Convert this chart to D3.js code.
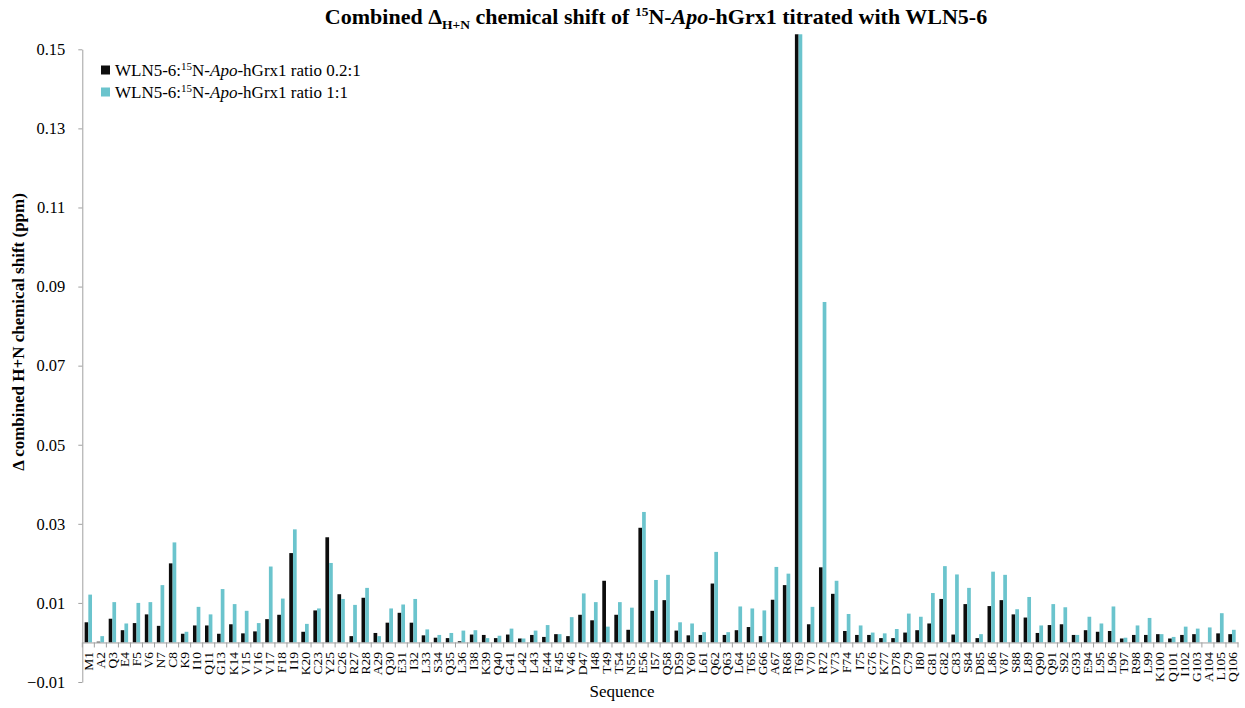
<!DOCTYPE html>
<html>
<head>
<meta charset="utf-8">
<script src="https://cdn.jsdelivr.net/npm/d3@7"></script>
<style>
  html, body { margin: 0; padding: 0; background: #fff; }
  svg { display: block; font-family: "Times New Roman", "Liberation Serif", serif; }
</style>
</head>
<body>
<svg id="chart" width="1245" height="708"></svg>
<script>
// Residues of hGrx1 with an assigned H/N cross-peak
const residues = ["M1","A2","Q3","E4","F5","V6","N7","C8","K9","I10","Q11","G13","K14","V15","V16","V17","F18","I19","K20","C23","Y25","C26","R27","R28","A29","Q30","E31","I32","L33","S34","Q35","L36","I38","K39","Q40","G41","L42","L43","E44","F45","V46","D47","I48","T49","T54","N55","E56","I57","Q58","D59","Y60","L61","Q62","Q63","L64","T65","G66","A67","R68","T69","V70","R72","V73","F74","I75","G76","K77","D78","C79","I80","G81","G82","C83","S84","D85","L86","V87","S88","L89","Q90","Q91","S92","G93","E94","L95","L96","T97","R98","L99","K100","Q101","I102","G103","A104","L105","Q106"];

// Combined H+N chemical shift (ppm), WLN5-6 : protein 0.2 : 1
const ratio02 = [0.0051,0.0002,0.0060,0.0031,0.0049,0.0071,0.0042,0.0200,0.0022,0.0043,0.0043,0.0022,0.0046,0.0023,0.0028,0.0059,0.0070,0.0226,0.0027,0.0081,0.0266,0.0122,0.0016,0.0113,0.0024,0.0050,0.0075,0.0050,0.0018,0.0012,0.0011,0.0003,0.0020,0.0019,0.0011,0.0020,0.0010,0.0019,0.0014,0.0021,0.0016,0.0070,0.0056,0.0156,0.0070,0.0032,0.0290,0.0080,0.0107,0.0030,0.0018,0.0019,0.0149,0.0019,0.0031,0.0039,0.0016,0.0108,0.0145,0.1538,0.0046,0.0190,0.0123,0.0029,0.0019,0.0019,0.0011,0.0011,0.0025,0.0031,0.0048,0.0110,0.0020,0.0097,0.0011,0.0092,0.0107,0.0071,0.0063,0.0024,0.0044,0.0046,0.0019,0.0031,0.0027,0.0029,0.0010,0.0019,0.0019,0.0021,0.0010,0.0019,0.0021,0.0000,0.0023,0.0021];

// Combined H+N chemical shift (ppm), WLN5-6 : protein 1 : 1
const ratio11 = [0.0121,0.0016,0.0102,0.0048,0.0100,0.0102,0.0145,0.0253,0.0027,0.0090,0.0071,0.0135,0.0097,0.0080,0.0049,0.0192,0.0111,0.0286,0.0047,0.0086,0.0201,0.0110,0.0095,0.0138,0.0016,0.0086,0.0096,0.0110,0.0033,0.0019,0.0024,0.0030,0.0031,0.0011,0.0017,0.0035,0.0010,0.0030,0.0044,0.0021,0.0064,0.0124,0.0102,0.0040,0.0102,0.0088,0.0330,0.0158,0.0171,0.0051,0.0048,0.0026,0.0229,0.0026,0.0091,0.0086,0.0081,0.0191,0.0174,0.1538,0.0090,0.0861,0.0156,0.0072,0.0043,0.0025,0.0023,0.0034,0.0073,0.0065,0.0125,0.0193,0.0172,0.0138,0.0021,0.0179,0.0171,0.0084,0.0115,0.0043,0.0097,0.0089,0.0019,0.0065,0.0048,0.0091,0.0012,0.0043,0.0062,0.0021,0.0014,0.0040,0.0035,0.0038,0.0074,0.0032];

const yTicks = [-0.01, 0.01, 0.03, 0.05, 0.07, 0.09, 0.11, 0.13, 0.15];
const seriesColors = ["#0d0d0d", "#6bc4cd"];
const seriesRatios = ["0.2:1", "1:1"];

const svg = d3.select("#chart");
svg.append("rect").attr("width", 1245).attr("height", 708).attr("fill", "#fff");

const plotLeft = 82.3, plotRight = 1238, plotTop = 49.3, plotBottom = 682;

const x0 = d3.scaleBand().domain(residues).range([plotLeft, plotRight])
  .paddingInner(0.386).paddingOuter(0.193);
const x1 = d3.scaleBand().domain([0, 1]).range([0, x0.bandwidth()]);
const y = d3.scaleLinear().domain([-0.01, 0.15]).range([plotBottom, plotTop]);

const axisColor = "#a0a0a0";

// Bars
const series = [ratio02, ratio11];
series.forEach((vals, s) => {
  svg.append("g").selectAll("rect")
    .data(residues.map((r, i) => ({ r, v: vals[i] })))
    .join("rect")
    .attr("x", d => x0(d.r) + x1(s))
    .attr("width", x1.bandwidth())
    .attr("y", d => y(Math.max(0, d.v)))
    .attr("height", d => Math.abs(y(d.v) - y(0)))
    .attr("fill", seriesColors[s]);
});

// Y axis
const yAxis = svg.append("g")
  .attr("transform", `translate(${plotLeft},0)`)
  .call(d3.axisLeft(y).tickValues(yTicks).tickFormat(d3.format(".2f"))
    .tickSize(4).tickSizeOuter(0).tickPadding(13));
yAxis.select(".domain").attr("stroke", axisColor);
yAxis.selectAll(".tick line").attr("stroke", axisColor);
yAxis.selectAll("text").attr("font-size", "16.5px").attr("fill", "#000")
  .attr("font-family", "'Times New Roman', 'Liberation Serif', serif");

// X axis along zero, labels rotated
const xAxis = svg.append("g")
  .attr("transform", `translate(0,${y(0)})`)
  .call(d3.axisBottom(x0).tickSize(0).tickSizeOuter(0));
xAxis.select(".domain").attr("stroke", axisColor);
xAxis.selectAll("text")
  .attr("transform", "rotate(-90)")
  .attr("text-anchor", "end")
  .attr("x", -9.5).attr("y", 0).attr("dy", "0.35em")
  .attr("font-size", "13.5px").attr("fill", "#000")
  .attr("font-family", "'Times New Roman', 'Liberation Serif', serif");

// Category separators below the zero line
const bounds = residues.map(r => x0(r) + x0.bandwidth() / 2 - x0.step() / 2)
  .concat([x0(residues[residues.length - 1]) + x0.bandwidth() / 2 + x0.step() / 2]);
svg.append("g").selectAll("line").data(bounds).join("line")
  .attr("x1", d => d).attr("x2", d => d)
  .attr("y1", y(0)).attr("y2", y(0) + 5)
  .attr("stroke", axisColor);

// Title
const title = svg.append("text")
  .attr("x", 656).attr("y", 24).attr("text-anchor", "middle")
  .attr("font-size", "22px").attr("font-weight", "bold");
title.append("tspan").text("Combined \u0394");
title.append("tspan").attr("font-size", "13.5px").attr("dy", 5).text("H+N");
title.append("tspan").attr("dy", -5).text(" chemical shift of ");
title.append("tspan").attr("font-size", "13.5px").attr("dy", -8).text("15");
title.append("tspan").attr("dy", 8).text("N-");
title.append("tspan").attr("font-style", "italic").text("Apo");
title.append("tspan").text("-hGrx1 titrated with WLN5-6");

// Axis titles
svg.append("text")
  .attr("transform", "translate(24,332) rotate(-90)")
  .attr("text-anchor", "middle").attr("font-size", "17px").attr("font-weight", "bold")
  .text("\u0394 combined H+N chemical shift (ppm)");
svg.append("text")
  .attr("x", 622).attr("y", 697).attr("text-anchor", "middle")
  .attr("font-size", "17px").text("Sequence");

// Legend
const legend = svg.append("g").attr("transform", "translate(101,0)");
seriesRatios.forEach((ratio, i) => {
  const cy = 70 + i * 22;
  legend.append("rect").attr("x", 0).attr("y", cy - 4.5).attr("width", 9).attr("height", 9)
    .attr("fill", seriesColors[i]);
  const t = legend.append("text").attr("x", 14).attr("y", cy + 5.5).attr("font-size", "17px");
  t.append("tspan").text("WLN5-6:");
  t.append("tspan").attr("font-size", "11px").attr("dy", -6).text("15");
  t.append("tspan").attr("dy", 6).text("N-");
  t.append("tspan").attr("font-style", "italic").text("Apo");
  t.append("tspan").text("-hGrx1 ratio " + ratio);
});
</script>
</body>
</html>
